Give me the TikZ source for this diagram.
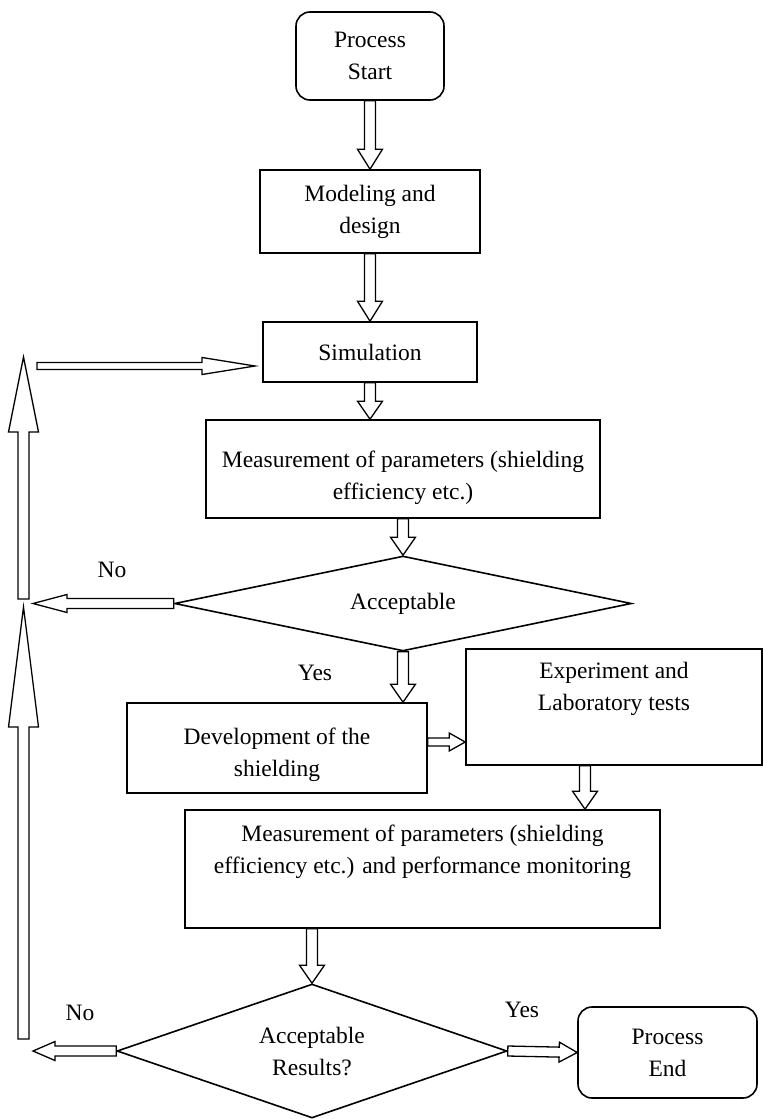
\documentclass[tikz,border=0pt]{standalone}
\usepackage{fontspec}
\setmainfont{Liberation Serif}
\usetikzlibrary{shapes.geometric, calc}

% hollow block arrow: from, to, shaft half width, head half width, head length
\newcommand{\blockarrow}[5]{%
  \draw[arrowline] ($(#1)!#3!90:(#2)$) -- ($(#2)!#5!(#1)!#3!90:(#2)$)
    -- ($(#2)!#5!(#1)!#4!90:(#2)$) -- (#2) -- ($(#2)!#5!(#1)!#4!-90:(#2)$)
    -- ($(#2)!#5!(#1)!#3!-90:(#2)$) -- ($(#1)!#3!-90:(#2)$) -- cycle;}

\begin{document}
\begin{tikzpicture}[x=1pt, y=-1pt,
  every node/.style={font=\fontsize{23.5}{32}\selectfont, align=center},
  box/.style={draw, line width=1.6pt, inner sep=0pt},
  terminal/.style={box, rounded corners=14pt},
  decision/.style={draw, diamond, line width=1.6pt, inner sep=1pt, aspect=3},
  arrowline/.style={draw, line width=1.3pt, fill=white, line join=miter},
]
  \useasboundingbox (0,0) rectangle (763,1119);

  % main column
  \node[terminal, minimum width=148pt, minimum height=88pt] (start) at (370,56) {Process\\Start};
  \node[box, minimum width=220pt, minimum height=83pt] (model) at (370,211.5) {Modeling and\\design};
  \node[box, minimum width=214pt, minimum height=60pt] (sim) at (370,352) {Simulation};
  \node[box, minimum width=394pt, minimum height=98pt] (meas1) at (403,469) {};
  \node (meas1txt) at (403,478) {Measurement of parameters (shielding\\efficiency etc.)};
  \node[decision, minimum width=457pt, minimum height=95pt] (acc1) at (403,603.5) {Acceptable};

  % testing branch
  \node[box, minimum width=300pt, minimum height=90pt] (dev) at (277,748) {};
  \node (devtxt) at (277,755) {Development of the\\shielding};
  \node[box, minimum width=296pt, minimum height=116pt] (exp) at (614,707) {};
  \node (exptxt) at (614,689) {Experiment and\\Laboratory tests};
  \node[box, minimum width=475pt, minimum height=118pt] (meas2) at (422.5,869) {};
  \node (meas2txt) at (422.5,852) {Measurement of parameters (shielding\\efficiency etc.) and performance monitoring};
  \node[decision, minimum width=390pt, minimum height=134pt] (acc2) at (312,1051) {Acceptable\\Results?};
  \node[terminal, minimum width=179pt, minimum height=91pt] (finish) at (667.5,1052.5) {Process\\End};

  % answers
  \node (no1) at (112,570) {No};
  \node (yes1) at (315,673) {Yes};
  \node (no2) at (80,1013) {No};
  \node (yes2) at (522,1010) {Yes};

  % loose ends
  \coordinate (no1end) at (33,603.5);
  \coordinate (no2end) at (33,1051);
  \coordinate (up1bot) at (23.5,599);
  \coordinate (up1top) at (23.5,357);
  \coordinate (up2bot) at (23.5,1039);
  \coordinate (up2top) at (23.5,607);
  \coordinate (backin) at (37,366);
  \coordinate (backout) at (255,366);
  \coordinate (simout) at (sim.south);
  \coordinate (meas1in) at (sim.south |- meas1.north);
  \coordinate (devin) at (acc1.south |- dev.north);
  \coordinate (devout) at ([yshift=6pt]dev.east);
  \coordinate (expin) at (devout -| exp.west);
  \coordinate (expout) at ([xshift=-29pt]exp.south);
  \coordinate (meas2in) at (expout |- meas2.north);
  \coordinate (meas2out) at (acc2.north |- meas2.south);

  % arrows
  \blockarrow{start.south}{model.north}{5.5pt}{12.5pt}{20pt}
  \blockarrow{model.south}{sim.north}{5.5pt}{12.5pt}{20pt}
  \blockarrow{simout}{meas1in}{5.5pt}{12.5pt}{18pt}
  \blockarrow{meas1.south}{acc1.north}{5.5pt}{12.5pt}{18pt}
  \blockarrow{acc1.south}{devin}{5.5pt}{12.5pt}{18pt}
  \blockarrow{devout}{expin}{4pt}{9pt}{16pt}
  \blockarrow{expout}{meas2in}{5.5pt}{12.5pt}{18pt}
  \blockarrow{meas2out}{acc2.north}{5.5pt}{12.5pt}{18pt}
  \blockarrow{acc2.east}{finish.west}{5pt}{10pt}{18pt}
  \blockarrow{acc1.west}{no1end}{5pt}{9pt}{34pt}
  \blockarrow{acc2.west}{no2end}{5pt}{9.5pt}{22pt}
  \blockarrow{up2bot}{up2top}{5.5pt}{15pt}{120pt}
  \blockarrow{up1bot}{up1top}{5.5pt}{15pt}{75pt}
  \blockarrow{backin}{backout}{3.5pt}{8.5pt}{53pt}
\end{tikzpicture}
\end{document}
